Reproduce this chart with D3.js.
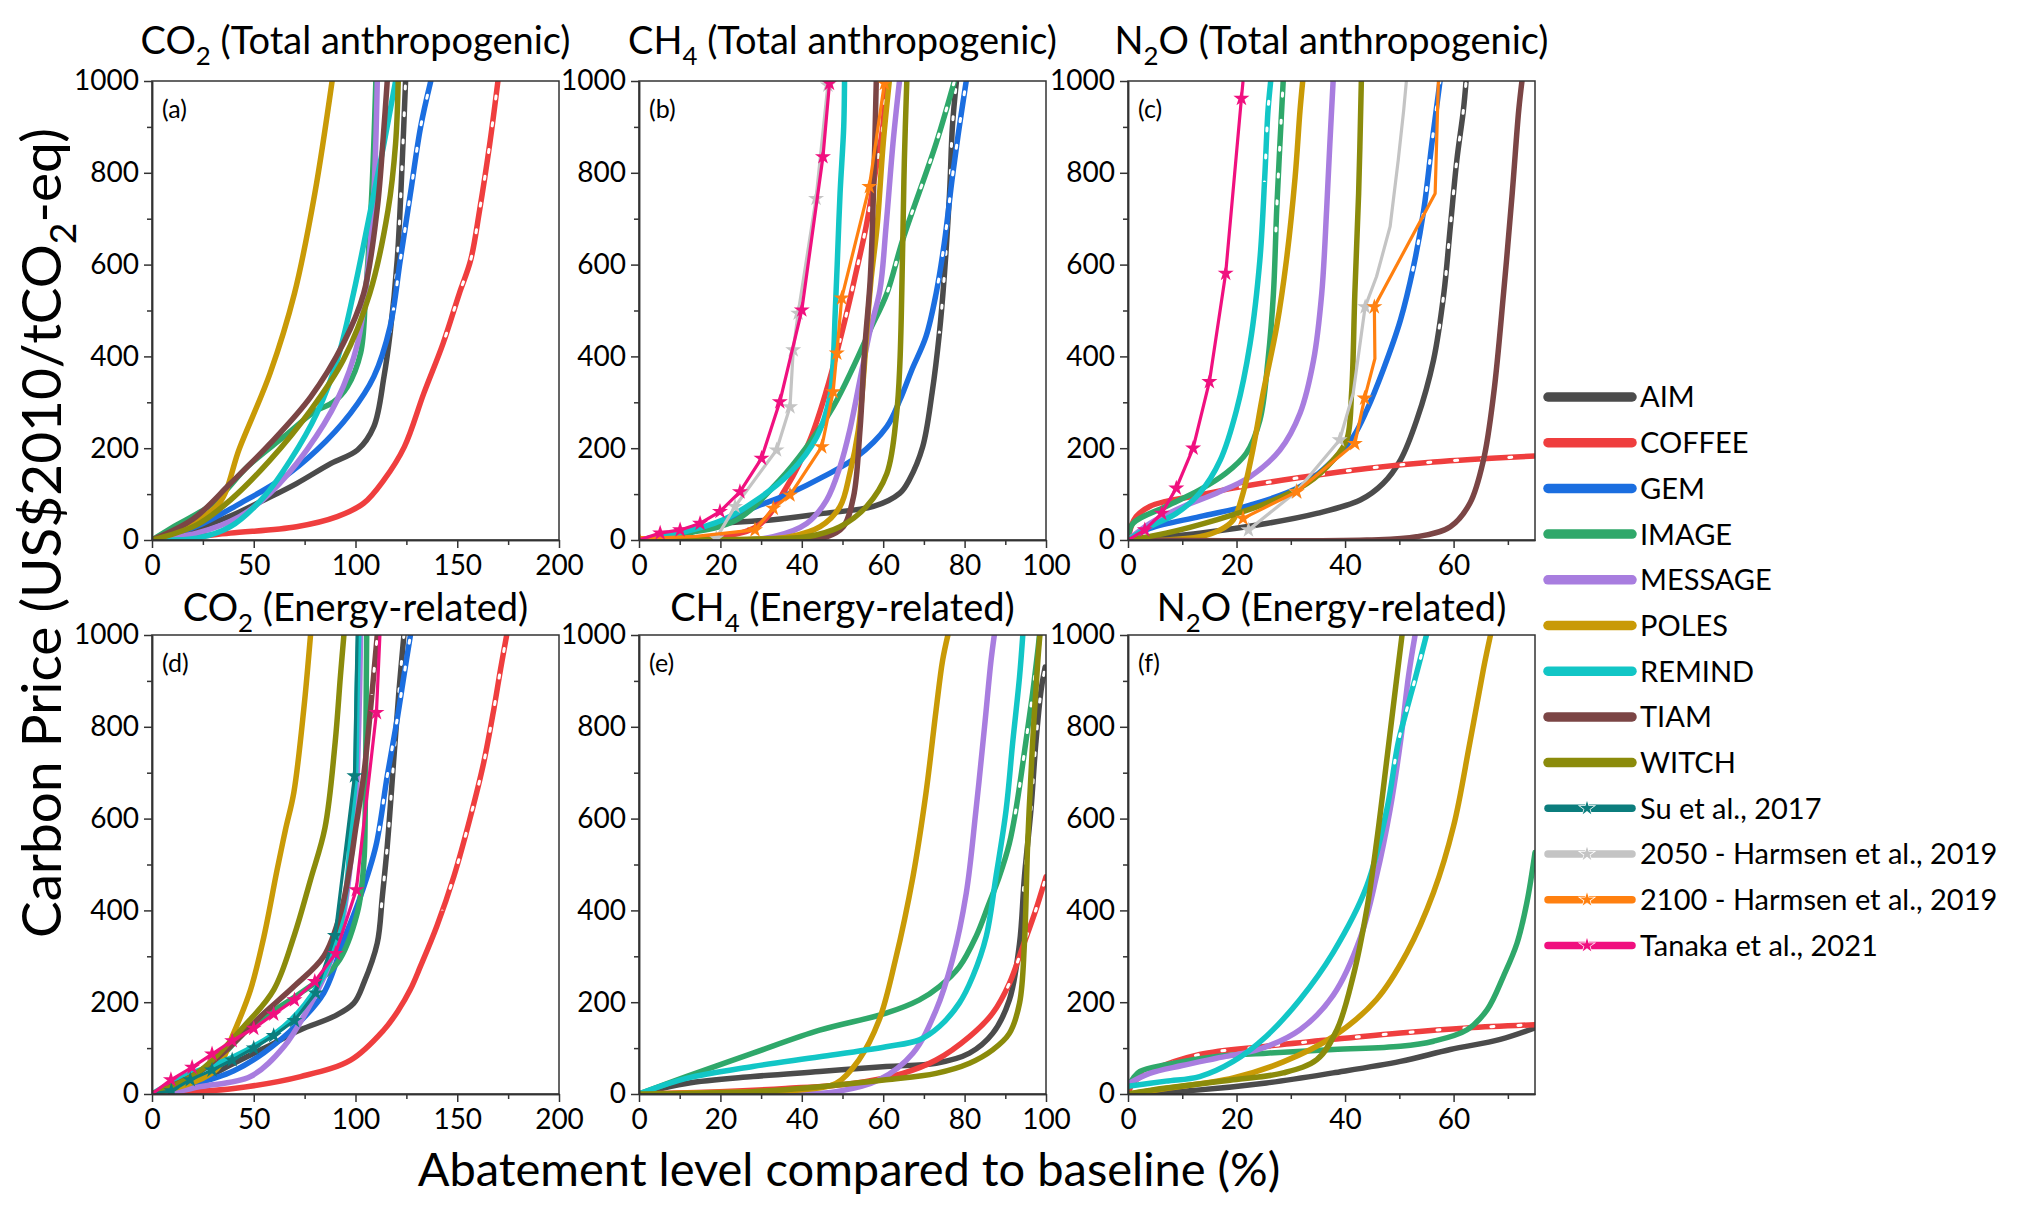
<!DOCTYPE html>
<html><head><meta charset="utf-8">
<script src="https://cdn.jsdelivr.net/npm/d3@7"></script>
<style>
body{margin:0;background:#fff}
text{font-family:Lato,'Open Sans',sans-serif;fill:#000}
</style>
</head><body>
<svg id="c" width="2028" height="1212"></svg>
<script>
// ---------- series names and tick labels ----------
const models = ["AIM","COFFEE","GEM","IMAGE","MESSAGE","POLES","REMIND","TIAM","WITCH"];
const studies = ["Su et al., 2017","2050 - Harmsen et al., 2019","2100 - Harmsen et al., 2019","Tanaka et al., 2021"];
const yTicks = [0,200,400,600,800,1000];
const yMinor = [100,300,500,700,900];
const xTicksCO2 = [0,50,100,150,200];
const xTicks100 = [0,20,40,60,80,100];
const xTicks75 = [0,20,40,60];

// ---------- (a) CO2 total anthropogenic: [abatement %, price] ----------
const co2Total = {
  AIM:[[0,0],[20,22],[40,55],[55,87],[71,123],[88,167],[101,196],[109,247],[114,356],[117,450],[120.5,610],[123,828],[124.6,1000]],
  COFFEE:[[0,0],[14,4],[38.5,15],[71,29],[91,51],[104,80],[114,131],[124,203],[133.6,320],[143,428],[151,537],[156.6,610],[161,719],[166,864],[170,1000]],
  GEM:[[0,0],[22,30],[43.4,80],[63,131],[81,196],[97.5,276],[109,356],[117,465],[122,610],[127,755],[132,900],[137,1000]],
  IMAGE:[[0,0],[10.7,29],[30,80],[47,160],[64.8,225],[80,280],[89,300],[96,334],[102.5,407],[105,537],[108,755],[110,1000]],
  MESSAGE:[[0,0],[22,15],[43,51],[58,102],[76,196],[91,305],[101,428],[105.7,574],[109,755],[110.7,1000]],
  POLES:[[0,0],[16,30],[33,80],[43,200],[58,363],[70,537],[80,755],[88.5,1000]],
  REMIND:[[0,0],[22,4],[38.5,29],[55,94],[68,174],[81,276],[91,392],[99,537],[107.4,719],[114,864],[119.7,1000]],
  TIAM:[[0,0],[20,45],[38.5,123],[58,210],[78,312],[94,428],[104,537],[110.6,719],[114,900],[115.6,1000]],
  WITCH:[[0,0],[22,33],[38.5,87],[58,174],[78,283],[94,392],[107,537],[116,719],[119.7,864],[121,1000]]
};
const co2TotalExtrap = {AIM:420, COFFEE:410, GEM:500};

// ---------- (b) CH4 total anthropogenic ----------
const ch4Total = {
  AIM:[[0,0],[10,15],[20.7,36],[33,44],[45.3,58],[57.6,73],[64.1,102],[66.4,131],[69.7,203],[72,320],[73.8,450],[75,574],[76.3,755],[77,900],[78,1000]],
  COFFEE:[[0,0],[15,4],[28.9,29],[36.3,116],[42,218],[46.1,327],[49.4,436],[51.8,523],[53,570],[55.8,683],[58.3,813],[59.9,900],[60.7,1000]],
  GEM:[[0,0],[8,12],[16.6,29],[28.9,73],[37.1,102],[45.3,138],[53.5,181],[60.9,247],[64.1,305],[67,370],[70.5,443],[73,537],[75,646],[77,791],[78.7,900],[80.4,1000]],
  IMAGE:[[0,0],[12,15],[24,44],[34.6,131],[41.2,203],[47.7,290],[52.7,378],[56.8,458],[60.9,537],[64.8,654],[73,864],[77.5,1000]],
  MESSAGE:[[0,0],[25,0],[33,7],[41.2,36],[46.1,87],[49.4,160],[51.8,240],[54.3,349],[56.8,458],[59.2,545],[60.7,683],[62.4,864],[64,1000]],
  POLES:[[0,0],[30,2],[37.1,7],[44.5,29],[49.4,73],[51.8,145],[53.9,240],[55.1,349],[56,458],[57,566],[58.5,683],[60,864],[61.5,1000]],
  REMIND:[[0,0],[10,15],[20.7,44],[28.9,87],[37.1,146],[43.7,225],[46.9,312],[47.7,385],[48.2,494],[48.7,600],[49.4,755],[50.3,900],[50.5,1000]],
  TIAM:[[0,0],[40,0],[46.1,7],[50.2,29],[52.7,94],[54.3,240],[55.5,421],[56.8,566],[57.6,755],[58.3,1000]],
  WITCH:[[0,0],[30,2],[41.2,7],[49.4,29],[55.9,73],[60.9,145],[63.3,276],[64.1,385],[64.8,646],[65.2,828],[65.8,1000]]
};
const ch4TotalStudies = {
  "2050 - Harmsen et al., 2019":[[19,4,1],[23.6,73,1],[33.8,196,1],[37.1,290,1],[37.9,414,1],[39.1,494,1],[43.5,744,1],[46.4,991,1]],
  "2100 - Harmsen et al., 2019":[[0,3,1],[14,8,0],[28.5,22,1],[33,69,1],[37.1,98,1],[44.9,203,1],[47.7,323,1],[48.6,407,1],[49.8,527,1],[56.6,770,1],[60.3,995,1]],
  "Tanaka et al., 2021":[[0,0,0],[5.2,15,1],[10.1,22,1],[15,36,1],[19.9,62,1],[24.8,105,1],[30.1,178,1],[34.6,301,1],[40,501,1],[45.2,835,1],[46.8,995,1]]
};
const ch4TotalExtrap = {AIM:450, COFFEE:430, GEM:530, IMAGE:510};

// ---------- (c) N2O total anthropogenic ----------
const n2oTotal = {
  AIM:[[0,0],[13.2,15],[25.5,36],[34.8,58],[42.8,87],[47,123],[50.2,174],[53.2,261],[56.3,392],[58.2,537],[59.4,683],[60.6,828],[61.8,936],[62.3,1000]],
  COFFEE:[[0,0],[0.6,30],[1.5,51],[4,73],[7,84],[13.2,98],[19.4,113],[31.7,136],[44,156],[56.3,170],[75,183]],
  GEM:[[0,0],[4,25],[13.2,51],[22.5,76],[31.7,116],[37.8,174],[41.5,225],[44,283],[47,370],[50.2,479],[52.6,595],[54.5,719],[56,864],[57.5,1000]],
  IMAGE:[[0,0],[0.9,36],[7,73],[13.2,109],[18,145],[21.8,189],[24.3,261],[25.8,392],[26.8,537],[27.4,719],[28,864],[28.6,1000]],
  MESSAGE:[[0,0],[4,36],[10.2,73],[16.3,102],[22.5,138],[28,196],[31.7,276],[34.2,392],[35.7,537],[36.6,719],[37.2,864],[37.8,1000]],
  POLES:[[0,0],[7,0],[13.2,7],[17,22],[19.4,44],[21.2,102],[23,196],[24.9,320],[27.4,465],[29.2,610],[30.8,791],[31.7,936],[32.2,1000]],
  REMIND:[[0,0],[4,29],[8.9,58],[13.2,102],[17,174],[20,283],[22.5,428],[24.3,610],[25.2,791],[25.8,936],[26.3,1000]],
  TIAM:[[0,0],[44,0],[53.2,7],[59.4,29],[63,80],[65.5,174],[67.4,320],[69.2,537],[70.8,755],[72,936],[72.6,1000]],
  WITCH:[[0,0],[7,15],[16.3,44],[25.5,80],[33,123],[37.8,174],[40.3,218],[41.2,320],[41.8,537],[42.5,755],[43,1000]]
};
const n2oTotalStudies = {
  "2050 - Harmsen et al., 2019":[[22.2,22,1],[31,105,1],[39,218,1],[41.5,320,0],[43.7,508,1],[45.8,574,0],[48.3,683,0],[49.8,828,0],[50.8,936,0],[51.3,1000,0]],
  "2100 - Harmsen et al., 2019":[[21.2,47,1],[31.1,105,1],[41.8,210,1],[43.6,309,1],[45.5,395,0],[45.4,508,1],[56.6,755,0],[57.2,1000,0]],
  "Tanaka et al., 2021":[[0,0,0],[3.1,22,1],[6.2,58,1],[8.9,113,1],[12,200,1],[15,345,1],[18,581,1],[20.9,962,1],[21.2,1000,0]]
};
const n2oTotalExtrap = {AIM:430, COFFEE:112, GEM:580, IMAGE:650, REMIND:780};

// ---------- (d) CO2 energy-related ----------
const co2Energy = {
  AIM:[[0,0],[20,22],[40.2,67],[56.6,103],[73,140],[89.4,169],[99.2,198],[104.1,242],[110.7,329],[113.2,431],[115.6,540],[118.8,729],[121.3,875],[123.8,1000]],
  COFFEE:[[0,0],[20,5],[40.2,12],[73,38],[97.6,74],[114,140],[121,182],[127,228],[132,279],[140,366],[148.4,475],[156.6,606],[163,722],[168,839],[171.3,926],[174.3,1000]],
  GEM:[[0,0],[20,20],[40,50],[55,90],[71,150],[84.4,220],[94.3,336],[102.5,431],[110,540],[115.6,693],[120.5,817],[123.8,911],[127,1000]],
  IMAGE:[[0,0],[15,30],[32,74],[48.4,147],[73,220],[91,285],[100.9,395],[104.1,504],[104.8,620],[105.2,839],[105.5,1000]],
  MESSAGE:[[0,0],[10,4],[23.8,16],[48.4,38],[64.8,103],[76.3,183],[86.1,271],[92.7,358],[97,480],[100,620],[101.6,802],[102.5,1000]],
  POLES:[[0,0],[20,25],[32,55],[39.4,125],[48.4,227],[55,343],[61.5,489],[65.6,576],[69.7,657],[74.6,839],[77.9,1000]],
  REMIND:[[0,0],[15.6,38],[40.2,81],[64.8,147],[81.2,234],[91,336],[96,467],[97.6,576],[100,693],[100.8,875],[101.6,1000]],
  TIAM:[[0,0],[22,45],[40,110],[53.3,169],[69.7,234],[84.4,300],[92.7,395],[97.6,504],[100,576],[104,693],[107.4,839],[110.7,1000]],
  WITCH:[[0,0],[22,45],[45.1,147],[59.8,227],[69.7,343],[77.9,467],[85,580],[90,766],[92.6,911],[94.3,1000]]
};
const co2EnergyStudies = {
  "Su et al., 2017":[[0,0,0],[9.5,7,1],[18.8,31,1],[29.5,52,1],[39.4,74,1],[50,100,1],[59.8,127,1],[70,160,1],[80.4,220,1],[89.9,345,1],[99.5,693,1],[100.8,1000,0]],
  "Tanaka et al., 2021":[[0,0,0],[9.3,31,1],[19.7,58,1],[29.5,87,1],[39.4,116,1],[50,143,1],[59.8,174,1],[70,205,1],[80,245,1],[90.2,306,1],[100.4,445,1],[110.3,831,1],[112,1000,0]]
};
const co2EnergyExtrap = {AIM:390, COFFEE:400, GEM:530, TIAM:870};

// ---------- (e) CH4 energy-related ----------
const ch4Energy = {
  AIM:[[0,0],[11.6,23],[28,38],[44.4,49],[60.7,60],[73,67],[81.2,89],[86.9,132],[91,205],[93.5,328],[94.7,473],[96.3,619],[97.5,764],[98.8,880],[99.8,930]],
  COFFEE:[[0,0],[19.8,5],[36,12],[52.5,23],[64.8,45],[73,74],[81.2,125],[86.9,176],[91,241],[94.3,321],[97.5,401],[100,473]],
  IMAGE:[[0,0],[11.6,38],[28,89],[44.4,139],[60.7,176],[68.9,205],[73.8,234],[78.7,277],[82.8,343],[86,415],[88.5,473],[91,546],[92.6,619],[95,764],[96.7,872],[98,967],[98.4,1000]],
  MESSAGE:[[0,0],[40,0],[48.4,5],[59,31],[67.3,89],[73,183],[77,292],[80.4,437],[82.8,619],[84.9,800],[86.5,945],[87.3,1000]],
  POLES:[[0,0],[28,5],[40,9],[48.4,23],[54,74],[59,161],[63,292],[67.3,473],[70.5,655],[73,837],[74.6,945],[75.9,1000]],
  REMIND:[[0,0],[11.6,34],[28,60],[44.4,81],[60.7,103],[68.9,118],[73.8,147],[78.7,198],[82,256],[85.3,343],[87.7,473],[90.2,619],[91.8,764],[93.5,909],[94.3,1000]],
  WITCH:[[0,0],[28,5],[44.4,16],[60.7,31],[73,45],[81.2,67],[86.9,96],[91,132],[93.5,198],[94.7,328],[95.5,546],[96.7,764],[98,945],[98.5,1000]]
};
const ch4EnergyExtrap = {AIM:410, COFFEE:225, IMAGE:590};

// ---------- (f) N2O energy-related ----------
const n2oEnergy = {
  AIM:[[0,0],[13.2,9],[25.5,24],[37.8,46],[50.2,71],[59.4,97],[68.6,119],[75,144]],
  COFFEE:[[0,0],[1,25],[4,49],[13.2,86],[25.5,104],[37.8,119],[50.2,133],[62.5,144],[75,151]],
  IMAGE:[[0,15],[1,35],[2.2,49],[7,64],[16.3,82],[25.5,89],[37.8,97],[50.2,104],[56.3,115],[62.5,140],[66.2,184],[69.2,257],[71.7,329],[73.5,417],[75,526]],
  MESSAGE:[[0,22],[4,45],[10,62],[16.3,78],[24.3,98],[31.7,140],[37.8,215],[42.8,340],[45.8,475],[48.3,620],[50.2,766],[51.7,911],[52.9,1000]],
  POLES:[[0,0],[7,12],[19.4,35],[28.6,70],[37.8,125],[45.8,206],[51.4,308],[56.3,439],[60,584],[63,766],[65.5,926],[66.8,1000]],
  REMIND:[[0,17],[7,28],[13.2,38],[19.4,71],[25.5,126],[31.7,206],[37.8,308],[44,453],[47.7,620],[49.8,766],[51.4,839],[52.9,904],[55,1000]],
  WITCH:[[0,0],[7,13],[19.4,31],[28.6,46],[34.8,75],[38.5,140],[41.5,257],[44,402],[45.8,548],[47.7,729],[49.2,875],[50.5,1000]]
};
const n2oEnergyExtrap = {COFFEE:40, REMIND:680};

// ---------- colours ----------
const colors = {
  AIM:"#4b4b4b", COFFEE:"#ef3e3e", GEM:"#1b6ee0", IMAGE:"#2fa86a", MESSAGE:"#a87ddf",
  POLES:"#c99a06", REMIND:"#12c6c6", TIAM:"#7b4545", WITCH:"#8b8b0b",
  "Su et al., 2017":"#0b7d7d", "2050 - Harmsen et al., 2019":"#c4c4c4",
  "2100 - Harmsen et al., 2019":"#ff8010", "Tanaka et al., 2021":"#f0107f"
};

const panels = [
  {id:"a", row:0, col:0, title:["CO","2"," (Total anthropogenic)"], xmax:200, ticks:xTicksCO2, minorStep:25, data:co2Total, studies:{}, extrap:co2TotalExtrap},
  {id:"b", row:0, col:1, title:["CH","4"," (Total anthropogenic)"], xmax:100, ticks:xTicks100, minorStep:10, data:ch4Total, studies:ch4TotalStudies, extrap:ch4TotalExtrap},
  {id:"c", row:0, col:2, title:["N","2","O (Total anthropogenic)"], xmax:75, ticks:xTicks75, minorStep:10, data:n2oTotal, studies:n2oTotalStudies, extrap:n2oTotalExtrap},
  {id:"d", row:1, col:0, title:["CO","2"," (Energy-related)"], xmax:200, ticks:xTicksCO2, minorStep:25, data:co2Energy, studies:co2EnergyStudies, extrap:co2EnergyExtrap},
  {id:"e", row:1, col:1, title:["CH","4"," (Energy-related)"], xmax:100, ticks:xTicks100, minorStep:10, data:ch4Energy, studies:{}, extrap:ch4EnergyExtrap},
  {id:"f", row:1, col:2, title:["N","2","O (Energy-related)"], xmax:75, ticks:xTicks75, minorStep:10, data:n2oEnergy, studies:{}, extrap:n2oEnergyExtrap}
];

// ---------- layout ----------
const svg = d3.select("#c");
const W = 407, H = 459;
const lefts = [152, 639, 1128], tops = [81, 635];
const titleBase = [54, 621];
const AX = "#333";

function addSubText(sel, parts, fs){
  // odd index = subscript
  parts.forEach((p,i)=>{
    if(i%2===1){
      sel.append("tspan").attr("font-size", fs*0.68).attr("dy", fs*0.28).text(p);
    } else {
      sel.append("tspan").attr("font-size", fs).attr("dy", i===0?0:-fs*0.28).text(p);
    }
  });
}

const star = d3.symbol().type(d3.symbolStar);

panels.forEach(p=>{
  const g = svg.append("g").attr("transform",`translate(${lefts[p.col]},${tops[p.row]})`);
  const x = d3.scaleLinear().domain([0,p.xmax]).range([0,W]);
  const y = d3.scaleLinear().domain([0,1000]).range([H,0]);

  const cid = "clip-"+p.id;
  g.append("clipPath").attr("id",cid).append("rect").attr("width",W).attr("height",H);

  const plot = g.append("g").attr("clip-path",`url(#${cid})`);
  const line = d3.line().x(d=>x(d[0])).y(d=>y(d[1])).curve(d3.curveCatmullRom.alpha(0.5));
  const lineLin = d3.line().x(d=>x(d[0])).y(d=>y(d[1]));

  models.forEach(m=>{
    const pts = p.data[m];
    if(!pts) return;
    plot.append("path").attr("d",line(pts)).attr("fill","none")
      .attr("stroke",colors[m]).attr("stroke-width",5.5).attr("stroke-linejoin","round").attr("stroke-linecap","round");
    if(p.extrap[m]!==undefined){
      const ecid = `ex-${p.id}-${m}`;
      g.append("clipPath").attr("id",ecid).append("rect").attr("x",0).attr("y",0)
        .attr("width",W).attr("height",y(p.extrap[m]));
      plot.append("g").attr("clip-path",`url(#${ecid})`).append("path").attr("d",line(pts))
        .attr("fill","none").attr("stroke","#fff").attr("stroke-width",3)
        .attr("stroke-dasharray","3 24").attr("stroke-linecap","round");
    }
  });

  studies.forEach(s=>{
    const pts = p.studies[s];
    if(!pts) return;
    plot.append("path").attr("d",lineLin(pts)).attr("fill","none")
      .attr("stroke",colors[s]).attr("stroke-width",3.2).attr("stroke-linejoin","round");
    plot.selectAll(null).data(pts.filter(d=>d[2]===1)).enter().append("path")
      .attr("d",star.size(80)())
      .attr("transform",d=>`translate(${x(d[0])},${y(d[1])})`)
      .attr("fill",colors[s]);
  });

  // frame
  g.append("rect").attr("width",W).attr("height",H).attr("fill","none").attr("stroke",AX).attr("stroke-width",1.5);

  const fmt = d3.format("d");
  const ya = g.append("g").call(d3.axisLeft(y).tickValues(yTicks).tickFormat(fmt).tickSize(8).tickPadding(5).tickSizeOuter(0));
  const yam = g.append("g").call(d3.axisLeft(y).tickValues(yMinor).tickSize(5).tickFormat("").tickSizeOuter(0));
  const xa = g.append("g").attr("transform",`translate(0,${H})`)
    .call(d3.axisBottom(x).tickValues(p.ticks).tickFormat(fmt).tickSize(8).tickPadding(7).tickSizeOuter(0));
  const minorX = d3.range(p.minorStep, p.xmax+0.001, p.minorStep).filter(v=>!p.ticks.includes(v));
  const xam = g.append("g").attr("transform",`translate(0,${H})`)
    .call(d3.axisBottom(x).tickValues(minorX).tickSize(5).tickFormat("").tickSizeOuter(0));
  [ya,yam,xa,xam].forEach(a=>{
    a.select(".domain").attr("stroke",AX).attr("stroke-width",1.5);
    a.selectAll(".tick line").attr("stroke",AX).attr("stroke-width",1.5);
    a.selectAll(".tick text").attr("font-family","Lato, 'Open Sans', sans-serif").attr("font-size",28).attr("fill","#000");
  });

  // panel letter
  g.append("text").attr("x",10).attr("y",37).attr("font-size",25).text(`(${p.id})`);

  // title
  const t = svg.append("text").attr("x",lefts[p.col]+W/2).attr("y",titleBase[p.row])
    .attr("text-anchor","middle");
  addSubText(t, p.title, 38);
});

// y title
const yt = svg.append("text").attr("transform","translate(61,533) rotate(-90)").attr("text-anchor","middle");
addSubText(yt, ["Carbon Price (US$2010/tCO","2","-eq)"], 55);

// x title
svg.append("text").attr("x",849).attr("y",1186).attr("text-anchor","middle").attr("font-size",47)
  .text("Abatement level compared to baseline (%)");

// legend
const legItems = models.concat(studies);
const lg = svg.append("g");
legItems.forEach((name,i)=>{
  const yy = 397 + i*45.7;
  const isStudy = i >= models.length;
  lg.append("line").attr("x1",1548).attr("x2",1632).attr("y1",yy).attr("y2",yy)
    .attr("stroke",colors[name]).attr("stroke-width",isStudy?7.5:9.5).attr("stroke-linecap","round");
  if(isStudy){
    lg.append("path").attr("d",star.size(60)()).attr("transform",`translate(1587,${yy})`)
      .attr("fill",colors[name]).attr("stroke","#fff").attr("stroke-width",1.5);
    lg.append("path").attr("d",star.size(60)()).attr("transform",`translate(1587,${yy})`)
      .attr("fill",colors[name]);
  }
  lg.append("text").attr("x",1640).attr("y",yy).attr("dy","0.36em").attr("font-size",29).text(name);
});
</script>
</body></html>
